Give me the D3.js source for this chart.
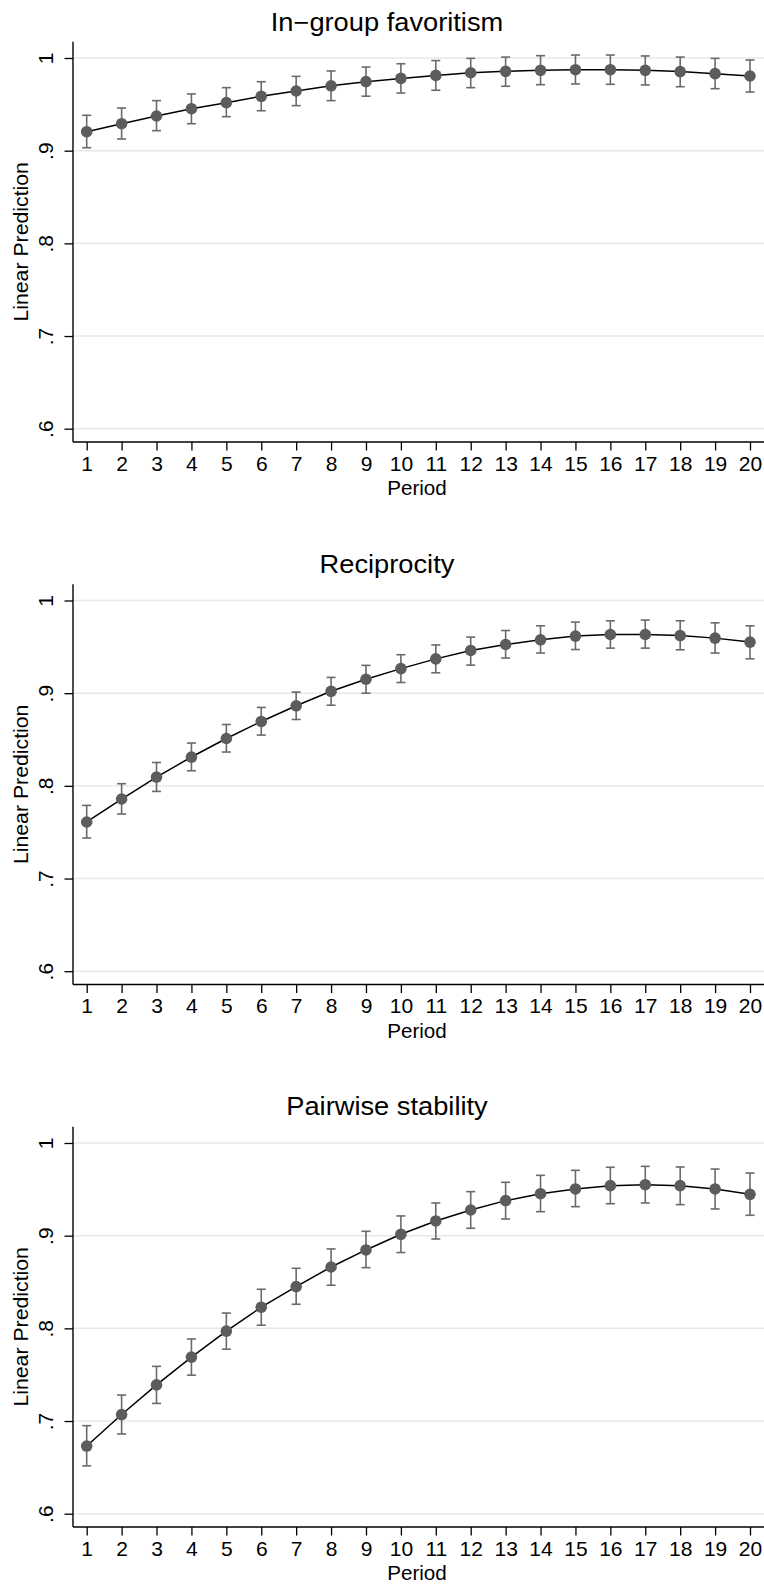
<!DOCTYPE html>
<html>
<head>
<meta charset="utf-8">
<script src="https://cdn.jsdelivr.net/npm/d3@7"></script>
<style>
  html, body { margin: 0; padding: 0; background: #fff; }
  svg { display: block; }
  text { font-family: "Liberation Sans", Arial, Helvetica, sans-serif; fill: #000; }
</style>
</head>
<body>
<svg id="chart" width="764" height="1585"></svg>
<script>
// ---------------- DATA ----------------
const periods = d3.range(1, 21);
const yTicks = [0.6, 0.7, 0.8, 0.9, 1.0];
const yTickLabels = [".6", ".7", ".8", ".9", "1"];
const panelTitles = ["In\u2212group favoritism", "Reciprocity", "Pairwise stability"];
const xTitle = "Period";
const yTitle = "Linear Prediction";

const favEst = [0.9205, 0.9291, 0.9374, 0.9453, 0.9518, 0.9587, 0.9644, 0.9700, 0.9745, 0.9780, 0.9812,
                0.9841, 0.9856, 0.9867, 0.9874, 0.9874, 0.9867, 0.9853, 0.9831, 0.9806];
const favLo  = [0.9032, 0.9126, 0.9216, 0.9291, 0.9367, 0.9431, 0.9486, 0.9540, 0.9588, 0.9622, 0.9652,
                0.9680, 0.9695, 0.9712, 0.9720, 0.9716, 0.9709, 0.9690, 0.9669, 0.9633];
const favHi  = [0.9382, 0.9460, 0.9540, 0.9612, 0.9680, 0.9744, 0.9802, 0.9860, 0.9902, 0.9938, 0.9972,
                0.9996, 1.0010, 1.0025, 1.0032, 1.0032, 1.0022, 1.0010, 0.9996, 0.9978];

const recEst = [0.7610, 0.7858, 0.8095, 0.8311, 0.8511, 0.8695, 0.8864, 0.9020, 0.9150, 0.9265, 0.9370,
                0.9461, 0.9525, 0.9576, 0.9616, 0.9633, 0.9633, 0.9622, 0.9594, 0.9551];
const recLo  = [0.7437, 0.7696, 0.7940, 0.8163, 0.8365, 0.8548, 0.8716, 0.8870, 0.9000, 0.9115, 0.9220,
                0.9303, 0.9379, 0.9433, 0.9471, 0.9486, 0.9486, 0.9468, 0.9433, 0.9371];
const recHi  = [0.7789, 0.8023, 0.8252, 0.8462, 0.8662, 0.8846, 0.9012, 0.9170, 0.9300, 0.9415, 0.9520,
                0.9605, 0.9676, 0.9727, 0.9767, 0.9781, 0.9789, 0.9781, 0.9759, 0.9727];

const pairEst = [0.6730, 0.7070, 0.7390, 0.7690, 0.7970, 0.8228, 0.8450, 0.8662, 0.8846, 0.9015, 0.9159,
                 0.9277, 0.9378, 0.9453, 0.9504, 0.9540, 0.9550, 0.9540, 0.9504, 0.9446];
const pairLo  = [0.6516, 0.6860, 0.7190, 0.7495, 0.7775, 0.8034, 0.8260, 0.8465, 0.8655, 0.8818, 0.8964,
                 0.9080, 0.9180, 0.9259, 0.9313, 0.9345, 0.9353, 0.9335, 0.9288, 0.9220];
const pairHi  = [0.6950, 0.7280, 0.7590, 0.7885, 0.8165, 0.8422, 0.8648, 0.8857, 0.9047, 0.9213, 0.9353,
                 0.9475, 0.9576, 0.9651, 0.9705, 0.9738, 0.9748, 0.9741, 0.9719, 0.9676];

const panels = [
  { title: panelTitles[0], est: favEst,  lo: favLo,  hi: favHi },
  { title: panelTitles[1], est: recEst,  lo: recLo,  hi: recHi },
  { title: panelTitles[2], est: pairEst, lo: pairLo, hi: pairHi }
];

// ---------------- LAYOUT ----------------
const svg = d3.select("#chart");
const panelStep = 542.5;
const plotLeft = 73, plotRight = 764;
const axisTop = 41.7, axisBottom = 442;

const x = d3.scaleLinear().domain([1, 20]).range([86.7, 750]);

function stretch(sel, f) {
  sel.each(function() {
    const w = this.getComputedTextLength();
    d3.select(this).attr("textLength", w * f).attr("lengthAdjust", "spacingAndGlyphs");
  });
}

panels.forEach((p, i) => {
  const off = i * panelStep;
  const g = svg.append("g").attr("transform", `translate(0,${off})`);
  const y = d3.scaleLinear().domain([0.6, 1.0]).range([428.7, 58]);

  // title
  g.append("text")
    .attr("x", 387).attr("y", 30.5 - i * 0.5)
    .attr("text-anchor", "middle")
    .style("font-size", "25px")
    .text(p.title)
    .call(stretch, 1.09);

  // gridlines
  g.append("g").selectAll("line").data(yTicks).join("line")
    .attr("x1", plotLeft).attr("x2", plotRight)
    .attr("y1", d => y(d)).attr("y2", d => y(d))
    .attr("stroke", "#e8e8e8").attr("stroke-width", 1.5);

  // y axis
  const yAxis = d3.axisLeft(y).tickValues(yTicks)
    .tickFormat((d, k) => yTickLabels[k]).tickSize(8.5).tickSizeOuter(0);
  const ya = g.append("g").attr("transform", `translate(${plotLeft},0)`).call(yAxis);
  ya.select(".domain").remove();
  ya.selectAll(".tick line").attr("stroke", "#000").attr("stroke-width", 1.3);
  ya.selectAll(".tick text")
    .attr("x", null).attr("dy", null)
    .attr("transform", "translate(-20,0) rotate(-90)")
    .attr("text-anchor", "middle")
    .attr("y", 0)
    .style("font-size", "21px")
    .attr("fill", "#000");
  g.append("line")
    .attr("x1", plotLeft).attr("x2", plotLeft)
    .attr("y1", axisTop).attr("y2", axisBottom)
    .attr("stroke", "#000").attr("stroke-width", 1.4);

  // x axis
  const xAxis = d3.axisBottom(x).tickValues(periods).tickFormat(d3.format("d"))
    .tickSize(8.5).tickSizeOuter(0);
  const xa = g.append("g").attr("transform", `translate(0,${axisBottom})`).call(xAxis);
  xa.select(".domain").remove();
  xa.selectAll(".tick line").attr("stroke", "#000").attr("stroke-width", 1.3);
  xa.selectAll(".tick text")
    .attr("y", 28.7).attr("dy", null)
    .style("font-size", "21px")
    .attr("fill", "#000");
  g.append("line")
    .attr("x1", plotLeft).attr("x2", plotRight)
    .attr("y1", axisBottom).attr("y2", axisBottom)
    .attr("stroke", "#000").attr("stroke-width", 1.4);

  // axis titles
  g.append("text")
    .attr("x", 417).attr("y", 495)
    .attr("text-anchor", "middle")
    .style("font-size", "20px")
    .text(xTitle)
    .call(stretch, 1.03);
  g.append("text")
    .attr("transform", `translate(28,${(axisTop + axisBottom) / 2}) rotate(-90)`)
    .attr("text-anchor", "middle")
    .style("font-size", "19.5px")
    .text(yTitle)
    .call(stretch, 1.09);

  const rows = periods.map((d, k) => ({ p: d, e: p.est[k], lo: p.lo[k], hi: p.hi[k] }));

  // error bars
  const eb = g.append("g").attr("stroke", "#6a6a6a").attr("stroke-width", 1.6).attr("fill", "none");
  eb.selectAll("line.v").data(rows).join("line").attr("class", "v")
    .attr("x1", d => x(d.p)).attr("x2", d => x(d.p))
    .attr("y1", d => y(d.lo)).attr("y2", d => y(d.hi));
  eb.selectAll("line.t").data(rows).join("line").attr("class", "t")
    .attr("x1", d => x(d.p) - 4.5).attr("x2", d => x(d.p) + 4.5)
    .attr("y1", d => y(d.hi)).attr("y2", d => y(d.hi));
  eb.selectAll("line.b").data(rows).join("line").attr("class", "b")
    .attr("x1", d => x(d.p) - 4.5).attr("x2", d => x(d.p) + 4.5)
    .attr("y1", d => y(d.lo)).attr("y2", d => y(d.lo));

  // connecting line
  g.append("path").datum(rows)
    .attr("fill", "none").attr("stroke", "#000").attr("stroke-width", 1.5)
    .attr("d", d3.line().x(d => x(d.p)).y(d => y(d.e)));

  // markers
  g.append("g").selectAll("circle").data(rows).join("circle")
    .attr("cx", d => x(d.p)).attr("cy", d => y(d.e))
    .attr("r", 5.8).attr("fill", "#5c5c5c");
});
</script>
</body>
</html>
